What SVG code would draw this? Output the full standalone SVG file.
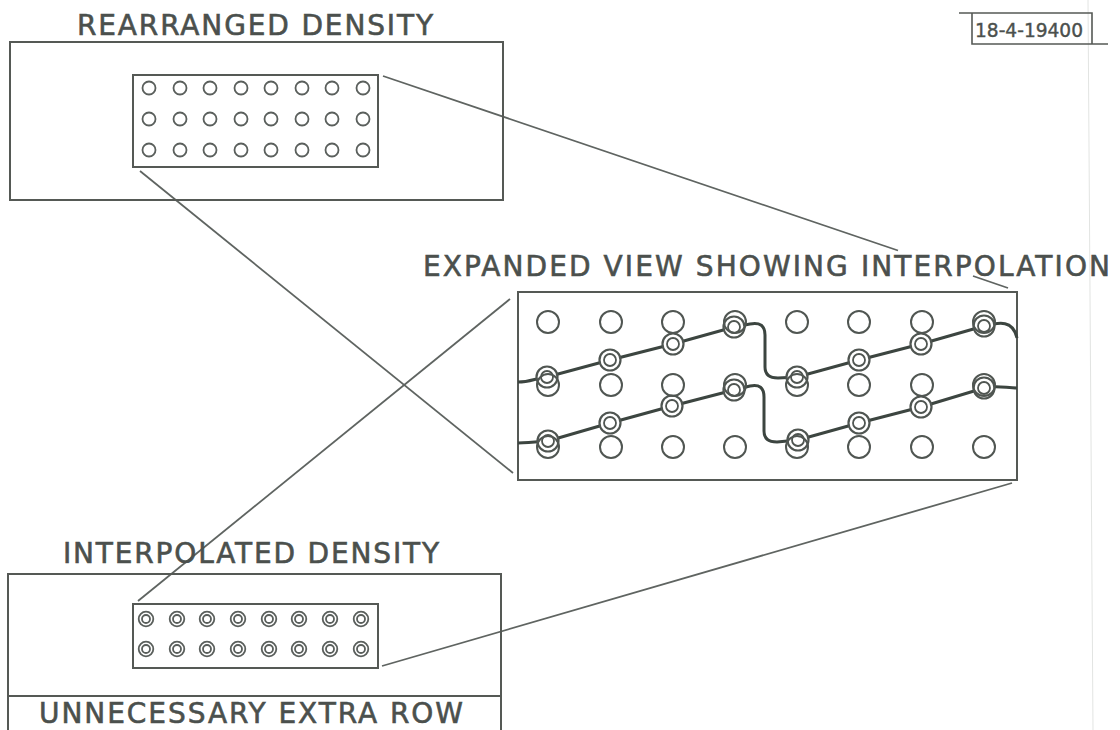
<svg xmlns="http://www.w3.org/2000/svg" width="1120" height="730" viewBox="0 0 1120 730">
<style>
.frame{fill:none;stroke:#555955;stroke-width:2}
.conn{fill:none;stroke:#5f6461;stroke-width:1.8}
.dot{fill:none;stroke:#5a5f5c;stroke-width:1.8}
.big{fill:none;stroke:#505652;stroke-width:2}
.ring{fill:#fff;stroke:#4f5551;stroke-width:2.2}
.ringin{fill:none;stroke:#4f5551;stroke-width:1.8}
.wave{fill:none;stroke:#3c4540;stroke-width:3}
.lbl{font-family:"DejaVu Sans","Liberation Sans",sans-serif;font-size:28px;fill:#4b504d;stroke:#4b504d;stroke-width:0.6}
</style>
<defs>
<circle id="d" r="6.5" class="dot"/>
<g id="dd"><circle r="7.3" class="dot"/><circle r="4" class="dot"/></g>
<circle id="b" r="11" class="big"/>
<g id="ip"><circle r="10.5" class="ring"/><circle r="6" class="ringin"/></g>
</defs>
<rect width="1120" height="730" fill="#fff"/>
<line x1="1088" y1="0" x2="1093" y2="730" stroke="#e2e4e2" stroke-width="1"/>

<g id="connectors">
<line class="conn" x1="383" y1="76" x2="898" y2="250.5"/>
<line class="conn" x1="973" y1="276" x2="1008" y2="288"/>
<line class="conn" x1="140" y1="171" x2="513" y2="473"/>
<line class="conn" x1="138" y1="601" x2="510" y2="299"/>
<line class="conn" x1="382" y1="666" x2="1012" y2="483"/>
</g>

<g id="rearranged">
<text class="lbl" x="77" y="35" textLength="356" lengthAdjust="spacing">REARRANGED DENSITY</text>
<rect class="frame" x="10" y="42" width="493" height="158"/>
<rect class="frame" x="133" y="75" width="245" height="92"/>
<g>
<use href="#d" x="149" y="88"/><use href="#d" x="180" y="88"/><use href="#d" x="210" y="88"/><use href="#d" x="241" y="88"/><use href="#d" x="271" y="88"/><use href="#d" x="302" y="88"/><use href="#d" x="332" y="88"/><use href="#d" x="363" y="88"/>
<use href="#d" x="149" y="119"/><use href="#d" x="180" y="119"/><use href="#d" x="210" y="119"/><use href="#d" x="241" y="119"/><use href="#d" x="271" y="119"/><use href="#d" x="302" y="119"/><use href="#d" x="332" y="119"/><use href="#d" x="363" y="119"/>
<use href="#d" x="149" y="150"/><use href="#d" x="180" y="150"/><use href="#d" x="210" y="150"/><use href="#d" x="241" y="150"/><use href="#d" x="271" y="150"/><use href="#d" x="302" y="150"/><use href="#d" x="332" y="150"/><use href="#d" x="363" y="150"/>
</g>
</g>

<g id="expanded">
<text class="lbl" x="423" y="276" textLength="687" lengthAdjust="spacing">EXPANDED VIEW SHOWING INTERPOLATION</text>
<rect class="frame" x="518" y="292" width="499" height="188"/>
<path class="wave" d="M518,382 C530,382 536,378 547,377 L610,360 L673,344 L734,327 L750,324 Q765,321 765,335 L765,367 Q765,378 778,378 L797,377 L859,360 L921,344 L984,326 C1000,322 1013,320 1017,338"/>
<path class="wave" d="M518,443 C530,443 537,442 548,441 L610,423 L672,406 L734,390 L750,386 Q764,383 764,397 L764,431 Q764,442 777,442 L798,440 L859,423 L921,407 L984,388 C996,385 1006,388 1017,388"/>
<g>
<use href="#ip" x="547" y="377"/><use href="#ip" x="610" y="360"/><use href="#ip" x="673" y="344"/><use href="#ip" x="734" y="327"/>
<use href="#ip" x="797" y="377"/><use href="#ip" x="859" y="360"/><use href="#ip" x="921" y="344"/><use href="#ip" x="984" y="326"/>
<use href="#ip" x="548" y="441"/><use href="#ip" x="610" y="423"/><use href="#ip" x="672" y="406"/><use href="#ip" x="734" y="390"/>
<use href="#ip" x="798" y="440"/><use href="#ip" x="859" y="423"/><use href="#ip" x="921" y="407"/><use href="#ip" x="984" y="388"/>
</g>
<g>
<use href="#b" x="548" y="322"/><use href="#b" x="611" y="322"/><use href="#b" x="673" y="322"/><use href="#b" x="735" y="322"/><use href="#b" x="797" y="322"/><use href="#b" x="859" y="322"/><use href="#b" x="922" y="322"/><use href="#b" x="984" y="322"/>
<use href="#b" x="548" y="385"/><use href="#b" x="611" y="385"/><use href="#b" x="673" y="385"/><use href="#b" x="735" y="385"/><use href="#b" x="797" y="385"/><use href="#b" x="859" y="385"/><use href="#b" x="922" y="385"/><use href="#b" x="984" y="385"/>
<use href="#b" x="548" y="447"/><use href="#b" x="611" y="447"/><use href="#b" x="673" y="447"/><use href="#b" x="735" y="447"/><use href="#b" x="797" y="447"/><use href="#b" x="859" y="447"/><use href="#b" x="922" y="447"/><use href="#b" x="984" y="447"/>
</g>
</g>

<g id="interpolated">
<text class="lbl" x="63" y="563" textLength="376" lengthAdjust="spacing">INTERPOLATED DENSITY</text>
<path class="frame" d="M8,735 L8,574 L501,574 L501,735"/>
<line class="frame" x1="8" y1="696" x2="501" y2="696"/>
<rect class="frame" x="133" y="604" width="245" height="64"/>
<g>
<use href="#dd" x="146" y="619"/><use href="#dd" x="177" y="619"/><use href="#dd" x="207" y="619"/><use href="#dd" x="238" y="619"/><use href="#dd" x="269" y="619"/><use href="#dd" x="299" y="619"/><use href="#dd" x="330" y="619"/><use href="#dd" x="361" y="619"/>
<use href="#dd" x="146" y="649"/><use href="#dd" x="177" y="649"/><use href="#dd" x="207" y="649"/><use href="#dd" x="238" y="649"/><use href="#dd" x="269" y="649"/><use href="#dd" x="299" y="649"/><use href="#dd" x="330" y="649"/><use href="#dd" x="361" y="649"/>
</g>
<text class="lbl" x="39" y="723" textLength="424" lengthAdjust="spacing">UNNECESSARY EXTRA ROW</text>
</g>

<g id="drawing-number">
<path class="frame" style="stroke-width:1.6" d="M959,13 L1092,13 L1092,44 M972,13 L972,44 L1108,44"/>
<text x="975" y="37" textLength="108" lengthAdjust="spacingAndGlyphs" style="font-family:'DejaVu Sans','Liberation Sans',sans-serif;font-size:19px;fill:#4b504d;stroke:#4b504d;stroke-width:0.4">18-4-19400</text>
</g>
</svg>
